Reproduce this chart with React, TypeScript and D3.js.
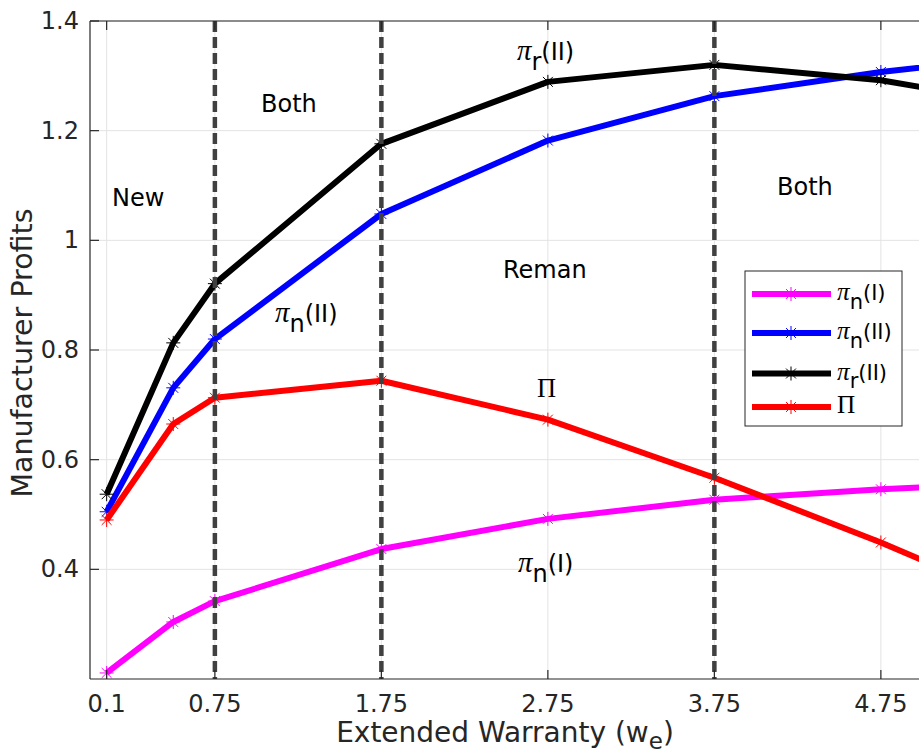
import React from 'react';
import * as d3 from 'd3';

// extended warranty levels (x) and profit curves
const warranty = [0.1, 0.5, 0.75, 1.75, 2.75, 3.75, 4.75, 5.75];
const piN1 = [0.211, 0.304, 0.342, 0.437, 0.492, 0.527, 0.546, 0.56];
const piN2 = [0.505, 0.731, 0.82, 1.048, 1.182, 1.263, 1.307, 1.34];
const piR2 = [0.537, 0.813, 0.921, 1.176, 1.289, 1.32, 1.292, 1.24];
const bigPi = [0.49, 0.665, 0.713, 0.744, 0.673, 0.567, 0.449, 0.32];

const xTicks = [0.1, 0.75, 1.75, 2.75, 3.75, 4.75];
const yTicks = [0.4, 0.6, 0.8, 1, 1.2, 1.4];
const boundaries = [0.75, 1.75, 3.75];

const series = [
  { key: 'n1', values: piN1, color: '#ff00ff', sym: 'π', sub: 'n', tail: '(I)' },
  { key: 'n2', values: piN2, color: '#0000ff', sym: 'π', sub: 'n', tail: '(II)' },
  { key: 'r2', values: piR2, color: '#000000', sym: 'π', sub: 'r', tail: '(II)' },
  { key: 'P', values: bigPi, color: '#ff0000', sym: 'Π', sub: '', tail: '' },
];

const W = 919, H = 756;
const m = { left: 90, top: 21, right: 922.5, bottom: 679 };
const axisColor = '#262626';
const sans = '"DejaVu Sans", sans-serif';
const serif = '"Liberation Serif", "DejaVu Serif", serif';

const Star = ({ cx, cy, color, r = 7 }) => {
  const d = r * 0.7071;
  return (
    <g stroke={color} strokeWidth={1}>
      <line x1={cx - r} y1={cy} x2={cx + r} y2={cy} />
      <line x1={cx} y1={cy - r} x2={cx} y2={cy + r} />
      <line x1={cx - d} y1={cy - d} x2={cx + d} y2={cy + d} />
      <line x1={cx - d} y1={cy + d} x2={cx + d} y2={cy - d} />
    </g>
  );
};

// pi-style label: symbol, subscript, tail
const PiLabel = ({ x, y, sym, sub, tail, size }) => (
  <text x={x} y={y} fontSize={size} fill="#000" fontFamily={sans}>
    <tspan fontFamily={serif} fontStyle={sym === 'π' ? 'italic' : 'normal'} fontSize={size * 1.2}>{sym}</tspan>
    {sub && <tspan dy={size * 0.42}>{sub}</tspan>}
    {tail && <tspan dy={sub ? -size * 0.42 : 0}>{tail}</tspan>}
  </text>
);

export default function App() {
  const x = d3.scaleLinear().domain([0, 5]).range([m.left, m.right]);
  const y = d3.scaleLinear().domain([0.2, 1.4]).range([m.bottom, m.top]);
  const line = d3.line<number>().x((_, i) => x(warranty[i])).y(d => y(d));

  return (
    <svg width={W} height={H} style={{ position: 'absolute', left: 0, top: 0, background: '#fff' }}>
      <defs>
        <clipPath id="plot">
          <rect x={m.left} y={m.top} width={m.right - m.left} height={m.bottom - m.top} />
        </clipPath>
      </defs>
      <rect width={W} height={H} fill="#fff" />

      {/* grid */}
      {xTicks.map(t => (
        <line key={'gx' + t} x1={x(t)} x2={x(t)} y1={m.top} y2={m.bottom} stroke="#e3e3e3" strokeWidth={1} />
      ))}
      {yTicks.map(t => (
        <line key={'gy' + t} x1={m.left} x2={m.right} y1={y(t)} y2={y(t)} stroke="#e3e3e3" strokeWidth={1} />
      ))}

      {/* series */}
      <g clipPath="url(#plot)">
        {series.map(s => (
          <g key={s.key}>
            <path d={line(s.values) || ''} fill="none" stroke={s.color} strokeWidth={6} strokeLinejoin="round" />
            {s.values.map((v, i) => (
              <Star key={i} cx={x(warranty[i])} cy={y(v)} color={s.color} />
            ))}
          </g>
        ))}
        {boundaries.map(b => (
          <line key={'b' + b} x1={x(b)} x2={x(b)} y1={m.top} y2={m.bottom} stroke="#404040" strokeWidth={4.5} strokeDasharray="11,5" />
        ))}
      </g>

      {/* axes box */}
      <line x1={m.left} x2={m.left} y1={m.top} y2={m.bottom} stroke={axisColor} strokeWidth={1.2} />
      <line x1={m.left} x2={m.right} y1={m.bottom} y2={m.bottom} stroke={axisColor} strokeWidth={1.2} />
      <line x1={m.left} x2={m.right} y1={m.top} y2={m.top} stroke={axisColor} strokeWidth={1.2} />
      {xTicks.map(t => (
        <g key={'tx' + t}>
          <line x1={x(t)} x2={x(t)} y1={m.bottom} y2={m.bottom - 9} stroke={axisColor} strokeWidth={1.2} />
          <line x1={x(t)} x2={x(t)} y1={m.top} y2={m.top + 9} stroke={axisColor} strokeWidth={1.2} />
          <text x={x(t)} y={m.bottom + 33} textAnchor="middle" fontSize={24} fontFamily={sans} fill={axisColor}>{t}</text>
        </g>
      ))}
      {yTicks.map(t => (
        <g key={'ty' + t}>
          <line x1={m.left} x2={m.left + 9} y1={y(t)} y2={y(t)} stroke={axisColor} strokeWidth={1.2} />
          <text x={m.left - 11} y={y(t) + 8} textAnchor="end" fontSize={24} fontFamily={sans} fill={axisColor}>{t}</text>
        </g>
      ))}

      <text x={505} y={742} textAnchor="middle" fontSize={28} fontFamily={sans} fill={axisColor}>
        Extended Warranty (w<tspan dy={7} fontSize={23}>e</tspan><tspan dy={-7}>)</tspan>
      </text>
      <text transform={`translate(32,${(m.top + m.bottom) / 2 + 3}) rotate(-90)`} textAnchor="middle" fontSize={28.5} fontFamily={sans} fill={axisColor}>
        Manufacturer Profits
      </text>

      {/* region annotations */}
      <g fontFamily={sans} fontSize={24} fill="#000">
        <text x={112} y={206}>New</text>
        <text x={261} y={112}>Both</text>
        <text x={503} y={278}>Reman</text>
        <text x={777} y={195}>Both</text>
      </g>
      <PiLabel x={517} y={60} sym="π" sub="r" tail="(II)" size={24} />
      <PiLabel x={275} y={322} sym="π" sub="n" tail="(II)" size={24} />
      <PiLabel x={518} y={572} sym="π" sub="n" tail="(I)" size={24} />
      <PiLabel x={537} y={397} sym="Π" sub="" tail="" size={22} />

      {/* legend */}
      <g>
        <rect x={745} y={271} width={157} height={155} fill="#fff" stroke={axisColor} strokeWidth={1} />
        {series.map((s, i) => {
          const ly = [294, 333, 373.5, 407][i];
          return (
            <g key={'lg' + s.key}>
              <line x1={752} x2={831} y1={ly} y2={ly} stroke={s.color} strokeWidth={6} />
              <Star cx={791} cy={ly} color={s.color} />
              <PiLabel x={837} y={ly + 6} sym={s.sym} sub={s.sub} tail={s.tail} size={21} />
            </g>
          );
        })}
      </g>
    </svg>
  );
}
